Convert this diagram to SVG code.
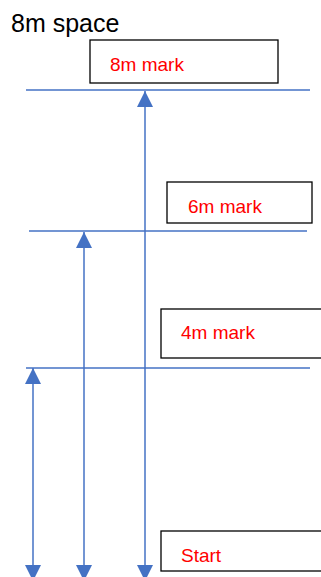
<svg xmlns="http://www.w3.org/2000/svg" width="321" height="577" viewBox="0 0 321 577">
<style>
.box{fill:#fff;stroke:#000;stroke-width:1.3}
.lbl{font-family:"Liberation Sans",Arial,sans-serif;font-size:19px;fill:#ff0000}
.hl{stroke:#4472C4;stroke-width:1.3;fill:none}
.ar{stroke:#4472C4;stroke-width:1.5;fill:none;marker-start:url(#ah);marker-end:url(#ah)}
</style>
<defs>
<marker id="ah" viewBox="0 0 16 16" refX="16" refY="8" markerWidth="16" markerHeight="16" markerUnits="userSpaceOnUse" orient="auto-start-reverse">
<path d="M0,0 L16,8 L0,16 z" fill="#4472C4"/>
</marker>
</defs>
<text x="11" y="32" font-family="Liberation Sans,Arial,sans-serif" font-size="25" fill="#000">8m space</text>
<g id="connectors">
<line class="hl" x1="26" y1="90" x2="310" y2="90"/>
<line class="hl" x1="29" y1="231" x2="307" y2="231"/>
<line class="hl" x1="26" y1="368" x2="310" y2="368"/>
<line class="ar" x1="145" y1="91" x2="145" y2="581"/>
<line class="ar" x1="84" y1="232" x2="84" y2="581"/>
<line class="ar" x1="33" y1="368" x2="33" y2="581"/>
</g>
<g id="mark8"><rect class="box" x="90" y="40" width="188" height="43"/><text class="lbl" x="110" y="71">8m mark</text></g>
<g id="mark6"><rect class="box" x="167" y="182" width="145" height="41"/><text class="lbl" x="188" y="213">6m mark</text></g>
<g id="mark4"><rect class="box" x="161" y="309" width="170" height="49"/><text class="lbl" x="181" y="339">4m mark</text></g>
<g id="start"><rect class="box" x="161" y="531" width="170" height="40"/><text class="lbl" x="181" y="562">Start</text></g>
</svg>
